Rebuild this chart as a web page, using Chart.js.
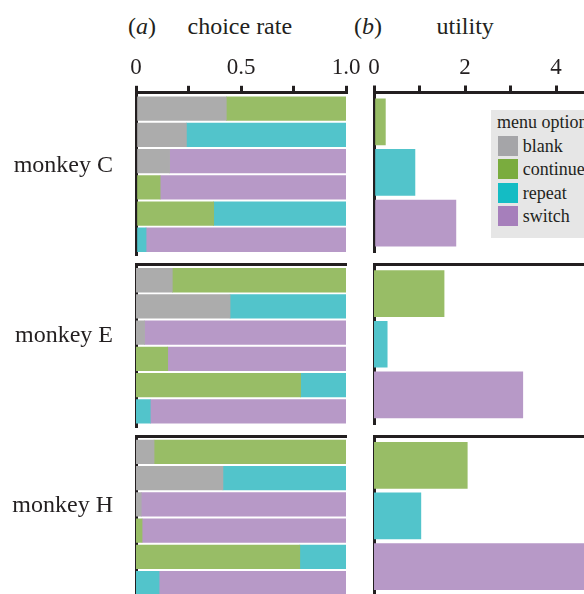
<!DOCTYPE html>
<html>
<head>
<meta charset="utf-8">
<script src="https://cdn.jsdelivr.net/npm/chart.js@4.4.1/dist/chart.umd.min.js"></script>
<style>
  html, body { margin: 0; padding: 0; background: #fff; overflow: hidden; width: 584px; height: 594px; }
  body { position: relative; font-family: "Liberation Serif", "Times New Roman", serif; color: #231f20; }
  canvas { position: absolute; }
  .txt { position: absolute; font-size: 24px; line-height: 24px; white-space: nowrap; }
  .monkey { position: absolute; font-size: 24px; line-height: 24px; white-space: nowrap; right: 471px; text-align: right; }
  #legend { position: absolute; left: 491px; top: 110px; width: 120px; height: 128px; background: #e6e6e6; font-size: 18px; }
  #legend .title { position: absolute; left: 6px; top: 3px; line-height: 18px; white-space: nowrap; }
  #legend .item { position: absolute; left: 7px; height: 20px; line-height: 20px; white-space: nowrap; }
  #legend .sw { display: inline-block; width: 20px; height: 20px; vertical-align: top; margin-right: 4.7px; }
</style>
</head>
<body>
<div class="txt" style="left:128px; top:13.5px;">(<i>a</i>)</div>
<div class="txt" style="left:187.5px; top:13.5px;">choice rate</div>
<div class="txt" style="left:354px; top:13.5px;">(<i>b</i>)</div>
<div class="txt" style="left:436.5px; top:13.5px;">utility</div>
<div id="legend"></div>
<script>
// ---- data ----
const monkeys = ['monkey C', 'monkey E', 'monkey H'];
const menuOptions = ['blank', 'continue', 'repeat', 'switch'];
// the six two-option menus, one row each
const menuPairs = ['blank / continue', 'blank / repeat', 'blank / switch',
                   'continue / switch', 'continue / repeat', 'repeat / switch'];

// choice rate of each option, per menu row (null = option not on the menu)
const blankC    = [0.43, 0.24, 0.16, null, null, null];
const continueC = [0.57, null, null, 0.115, 0.37, null];
const repeatC   = [null, 0.76, null, null, 0.63, 0.048];
const switchC   = [null, null, 0.84, 0.885, null, 0.952];

const blankE    = [0.173, 0.448, 0.041, null, null, null];
const continueE = [0.827, null, null, 0.151, 0.784, null];
const repeatE   = [null, 0.552, null, null, 0.216, 0.068];
const switchE   = [null, null, 0.959, 0.849, null, 0.932];

const blankH    = [0.086, 0.414, 0.025, null, null, null];
const continueH = [0.914, null, null, 0.029, 0.78, null];
const repeatH   = [null, 0.586, null, null, 0.22, 0.11];
const switchH   = [null, null, 0.975, 0.971, null, 0.89];

// utility of each non-blank option
const utilityOptions = ['continue', 'repeat', 'switch'];
const utilityC = [0.25, 0.90, 1.80];
const utilityE = [1.54, 0.29, 3.27];
const utilityH = [2.05, 1.03, 4.90];

// labelled ticks
const choiceTickLabels = [0, 0.5, 1.0];
const utilityTickLabels = [0, 2, 4];

// ---- styles ----
const INK = '#231f20';
const barColors = { blank: '#acacac', continue: '#98bd66', repeat: '#52c4cb', switch: '#b799c7' };
const swatchColors = { blank: '#a5a5a8', continue: '#7aac3e', repeat: '#14bcc4', switch: '#a67fbb' };
const TICK_FONT = { family: '"Liberation Serif", "Times New Roman", serif', size: 23 };

const choiceTables = [
  [blankC, continueC, repeatC, switchC],
  [blankE, continueE, repeatE, switchE],
  [blankH, continueH, repeatH, switchH]
];
const utilityTables = [utilityC, utilityE, utilityH];

function addCanvas(x, y, w, h) {
  const cv = document.createElement('canvas');
  cv.width = w; cv.height = h;
  cv.style.left = x + 'px'; cv.style.top = y + 'px';
  cv.style.width = w + 'px'; cv.style.height = h + 'px';
  document.body.appendChild(cv);
  return cv;
}

function xAxis(showTicks, topH, max, step, labelled, fmt) {
  return {
    type: 'linear', position: 'top', min: 0, max: max, stacked: true, offset: false, z: 1,
    afterFit: s => { s.height = topH; },
    border: { display: true, width: 3, color: INK },
    grid: showTicks
      ? { display: true, offset: false, drawOnChartArea: false, drawTicks: true, tickLength: 7, tickWidth: 3, lineWidth: 3, tickColor: INK, color: INK }
      : { display: false },
    ticks: {
      display: showTicks, stepSize: step, padding: 4, color: INK, font: TICK_FONT, maxRotation: 0, autoSkip: false,
      callback: v => labelled.some(t => Math.abs(t - v) < 1e-9) ? fmt(v) : ''
    }
  };
}

function yAxis(leftW, lo, hi) {
  return {
    type: 'linear', position: 'left', reverse: true, min: lo, max: hi, stacked: true, offset: false, z: 1,
    afterFit: s => { s.width = leftW; },
    border: { display: true, width: 3, color: INK },
    grid: { display: false, offset: false },
    ticks: { display: false }
  };
}

const baseOpts = {
  indexAxis: 'y', responsive: false, animation: false, devicePixelRatio: 1,
  plugins: { legend: { display: false }, tooltip: { enabled: false } }
};

// panel (a): stacked choice-rate bars
const aLine = [92.8, 264.5, 436.2];
const aChartH = 162.7;
choiceTables.forEach((table, g) => {
  const top = g === 0 ? 0 : Math.floor(aLine[g] - 20);
  const xH = aLine[g] - top;
  const h = Math.ceil(xH + aChartH + 3);
  const cv = addCanvas(100, top, 270, h);
  new Chart(cv, {
    type: 'bar',
    data: {
      datasets: menuOptions.map((opt, k) => ({
        label: opt,
        data: table[k].map((v, i) => ({ x: v, y: i })).filter(p => p.x !== null),
        backgroundColor: barColors[opt],
        borderWidth: 0,
        barThickness: 23.6
      }))
    },
    options: Object.assign({}, baseOpts, {
      layout: { padding: { left: 0, right: 24, top: 0, bottom: h - xH - aChartH } },
      scales: {
        x: xAxis(g === 0, xH, 1, 0.25, choiceTickLabels, v => v === 0 ? '0' : v.toFixed(1)),
        y: yAxis(36, -0.6, 5.6)
      }
    })
  });
});

// panel (b): utility bars
const bLine = [92.5, 264.3, 436.0];
const bChartH = 160.4;
utilityTables.forEach((vals, g) => {
  const top = g === 0 ? 0 : Math.floor(bLine[g] - 20);
  const xH = bLine[g] - top;
  const h = Math.ceil(xH + bChartH + 3);
  const cv = addCanvas(340, top, 317, h);
  new Chart(cv, {
    type: 'bar',
    data: {
      datasets: [{
        label: 'utility',
        data: vals.map((v, i) => ({ x: v, y: i })),
        backgroundColor: utilityOptions.map(o => barColors[o]),
        borderWidth: 0,
        barThickness: 46
      }]
    },
    options: Object.assign({}, baseOpts, {
      layout: { padding: { left: 0, right: 10, top: 0, bottom: h - xH - bChartH } },
      scales: {
        x: xAxis(g === 0, xH, 6, 1, utilityTickLabels, v => String(v)),
        y: yAxis(34, -0.58, 2.59)
      }
    })
  });
});

// row labels
const monkeyBaselines = [172.3, 342.3, 512.3];
monkeys.forEach((name, g) => {
  const d = document.createElement('div');
  d.className = 'monkey';
  d.style.top = (monkeyBaselines[g] - 20.1) + 'px';
  d.textContent = name;
  document.body.appendChild(d);
});

// legend
const legend = document.getElementById('legend');
const lt = document.createElement('div');
lt.className = 'title';
lt.textContent = 'menu option';
legend.appendChild(lt);
menuOptions.forEach((opt, k) => {
  const it = document.createElement('div');
  it.className = 'item';
  it.style.top = (26 + k * 23.3) + 'px';
  const sw = document.createElement('span');
  sw.className = 'sw';
  sw.style.background = swatchColors[opt];
  it.appendChild(sw);
  it.appendChild(document.createTextNode(opt));
  legend.appendChild(it);
});
</script>
</body>
</html>
